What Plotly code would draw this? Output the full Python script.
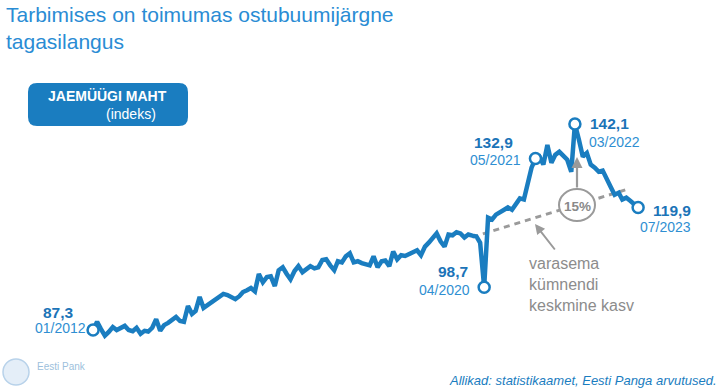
import pandas as pd
import plotly.graph_objects as go

# ---- data ----
months = pd.date_range("2012-01-01", periods=139, freq="MS")
retail_index = [
    87.3, 89.5, 87.6, 85.8, 86.8, 88.1, 87.3, 87.8, 88.4, 87.3, 87.0, 87.9,
    86.3, 87.1, 86.9, 87.9, 90.2, 87.1, 88.6, 89.2, 90.0, 90.8, 89.7, 89.5,
    93.7, 91.6, 92.4, 96.1, 93.2, 94.0, 94.5, 95.3, 96.3, 96.9, 96.6, 96.1,
    95.5, 96.3, 97.4, 97.9, 98.5, 97.6, 102.2, 100.0, 101.4, 101.6, 99.0, 103.2,
    104.0, 102.2, 100.8, 103.0, 104.3, 102.7, 103.5, 104.3, 103.7, 104.0, 105.9, 106.1,
    104.5, 103.2, 105.6, 105.3, 106.9, 107.7, 105.3, 105.6, 105.1, 104.8, 104.5, 106.9,
    104.0, 105.6, 105.8, 104.3, 108.2, 106.1, 107.2, 107.0, 107.4, 108.0, 108.5, 107.2,
    109.5, 110.6, 111.9, 113.0, 110.9, 109.5, 112.7, 112.5, 113.3, 113.0, 111.9, 112.7,
    112.4, 112.2, 110.5, 98.7, 117.2, 116.7, 118.0, 118.6, 119.1, 119.9, 119.3, 120.7,
    122.3, 122.0, 126.0, 130.5, 132.9, 133.4, 131.3, 136.5, 131.8, 133.9, 134.7, 133.6,
    132.6, 129.4, 142.1, 137.9, 133.4, 134.4, 131.3, 130.5, 129.4, 129.7, 127.8, 125.4,
    123.3, 123.8, 122.0, 122.5, 121.7, 120.9, 119.9,
]
highlight_dates = ["2012-01-01", "2020-04-01", "2021-05-01", "2022-03-01", "2023-07-01"]
highlight_values = [87.3, 98.7, 132.9, 142.1, 119.9]
highlight_value_labels = ["87,3", "98,7", "132,9", "142,1", "119,9"]
highlight_date_labels = ["01/2012", "04/2020", "05/2021", "03/2022", "07/2023"]
trend_dates = ["2020-01-01", "2023-04-15"]
trend_values = [112.0, 124.8]

title_text = "Tarbimises on toimumas ostubuumijärgne<br>tagasilangus"
badge_title = "JAEMÜÜGI MAHT"
badge_sub = "(indeks)"
growth_label = "15%"
trend_label = "varasema<br>kümnendi<br>keskmine kasv"
source_text = "Allikad: statistikaamet, Eesti Panga arvutused."

# ---- style ----
W, H = 726, 392
BLUE = "#1a7dc0"
VAL_BLUE = "#1b74b8"
DATE_BLUE = "#2f8fd2"
TITLE_BLUE = "#2a8cd4"
GREY = "#9a9a9a"
FONT = "Liberation Sans, Arial, sans-serif"


def px(x):
    return x / W


def py(y):
    return 1 - y / H


fig = go.Figure()
fig.add_trace(go.Scatter(x=trend_dates, y=trend_values, mode="lines",
                         line=dict(color=GREY, width=3, dash="6px,5px"),
                         hoverinfo="skip"))
fig.add_trace(go.Scatter(x=months, y=retail_index, mode="lines",
                         line=dict(color=BLUE, width=4.5), hoverinfo="skip"))
fig.add_trace(go.Scatter(x=highlight_dates, y=highlight_values, mode="markers",
                         marker=dict(size=11, color="white",
                                     line=dict(color=BLUE, width=2.5)),
                         hoverinfo="skip"))

# label placement (pixel offsets relative to each highlighted point)
val_pos = [("right", -17, 18), ("right", -14, 16), ("right", -20, 16),
           ("left", 13, 1), ("left", 13, -3)]
date_pos = [("right", -5, 2), ("right", -12, -3), ("right", -12, -1),
            ("left", 12, -18), ("left", 0, -20)]
ann = []
for d, v, vl, dl, vp, dp in zip(highlight_dates, highlight_values,
                                highlight_value_labels, highlight_date_labels,
                                val_pos, date_pos):
    ann.append(dict(x=d, y=v, xref="x", yref="y", text="<b>%s</b>" % vl,
                    showarrow=False, xanchor=vp[0], yanchor="middle",
                    xshift=vp[1], yshift=vp[2],
                    font=dict(size=15.5, color=VAL_BLUE, family=FONT)))
    ann.append(dict(x=d, y=v, xref="x", yref="y", text=dl,
                    showarrow=False, xanchor=dp[0], yanchor="middle",
                    xshift=dp[1], yshift=dp[2],
                    font=dict(size=14, color=DATE_BLUE, family=FONT)))

# title
ann.append(dict(x=px(4), y=py(1), xref="paper", yref="paper", text=title_text,
                showarrow=False, xanchor="left", yanchor="top", align="left",
                font=dict(size=21, color=TITLE_BLUE, family=FONT)))
# badge text
ann.append(dict(x=px(169), y=py(96), xref="paper", yref="paper",
                text="<b>%s</b>" % badge_title, showarrow=False,
                xanchor="right", yanchor="middle",
                font=dict(size=14, color="white", family=FONT)))
ann.append(dict(x=px(158), y=py(114), xref="paper", yref="paper",
                text=badge_sub, showarrow=False, xanchor="right", yanchor="middle",
                font=dict(size=14, color="white", family=FONT)))
# 15% text
ann.append(dict(x=px(577), y=py(206), xref="paper", yref="paper",
                text="<b>%s</b>" % growth_label, showarrow=False,
                xanchor="center", yanchor="middle",
                font=dict(size=13.5, color="#8a8a8a", family=FONT)))
# arrow up from circle
ann.append(dict(x=px(577), y=py(157), xref="paper", yref="paper", text="",
                showarrow=True, ax=0, ay=32, arrowhead=2, arrowsize=1,
                arrowwidth=2.2, arrowcolor=GREY))
# arrow to trend line
ann.append(dict(x=px(535), y=py(224), xref="paper", yref="paper", text="",
                showarrow=True, ax=21, ay=27, arrowhead=2, arrowsize=1,
                arrowwidth=2, arrowcolor=GREY))
ann.append(dict(x=px(527), y=py(253), xref="paper", yref="paper", text=trend_label,
                showarrow=False, xanchor="left", yanchor="top", align="left",
                font=dict(size=16, color="#8c8c8c", family=FONT)))
# source
ann.append(dict(x=px(719), y=py(380), xref="paper", yref="paper",
                text="<i>%s</i>" % source_text, showarrow=False,
                xanchor="right", yanchor="middle",
                font=dict(size=13, color=BLUE, family=FONT)))
# logo text
ann.append(dict(x=px(35), y=py(366), xref="paper", yref="paper",
                text="Eesti Pank", showarrow=False, xanchor="left",
                yanchor="middle", font=dict(size=10, color="#9dbfdc", family=FONT)))


def rounded_rect(x0, y0, x1, y1, r):
    pts = []
    pts.append("M %f,%f" % (px(x0 + r), py(y0)))
    pts.append("L %f,%f" % (px(x1 - r), py(y0)))
    pts.append("Q %f,%f %f,%f" % (px(x1), py(y0), px(x1), py(y0 + r)))
    pts.append("L %f,%f" % (px(x1), py(y1 - r)))
    pts.append("Q %f,%f %f,%f" % (px(x1), py(y1), px(x1 - r), py(y1)))
    pts.append("L %f,%f" % (px(x0 + r), py(y1)))
    pts.append("Q %f,%f %f,%f" % (px(x0), py(y1), px(x0), py(y1 - r)))
    pts.append("L %f,%f" % (px(x0), py(y0 + r)))
    pts.append("Q %f,%f %f,%f" % (px(x0), py(y0), px(x0 + r), py(y0)))
    pts.append("Z")
    return " ".join(pts)


shapes = [
    dict(type="path", xref="paper", yref="paper",
         path=rounded_rect(28, 83, 188, 126, 9),
         fillcolor=BLUE, line=dict(width=0), layer="above"),
    dict(type="circle", xref="paper", yref="paper",
         x0=px(559), x1=px(595), y0=py(221), y1=py(189),
         fillcolor="white", line=dict(color=GREY, width=2), layer="above"),
    dict(type="circle", xref="paper", yref="paper",
         x0=px(3), x1=px(29), y0=py(385), y1=py(359),
         fillcolor="#e4eef8", line=dict(color="#b8d2ea", width=1.5), layer="above"),
]

fig.update_layout(
    width=W, height=H,
    margin=dict(l=0, r=0, t=0, b=0),
    paper_bgcolor="white", plot_bgcolor="white",
    showlegend=False,
    xaxis=dict(visible=False, range=["2010-01-14", "2025-05-08"],
               showgrid=False, zeroline=False, fixedrange=True),
    yaxis=dict(visible=False, range=[70.82, 175.08],
               showgrid=False, zeroline=False, fixedrange=True),
    annotations=ann,
    shapes=shapes,
)
fig.write_html("out.html",
               config={"displayModeBar": False, "staticPlot": True},
               post_script="document.body.style.margin='0px';"
                           "document.body.style.overflow='hidden';")
